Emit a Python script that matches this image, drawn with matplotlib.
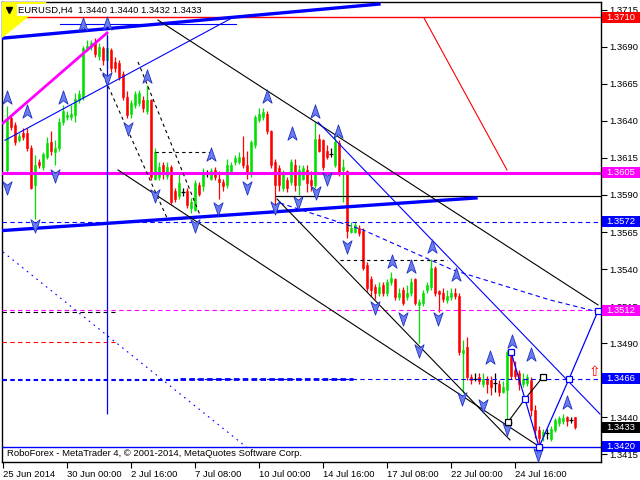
import numpy as np
import matplotlib.pyplot as plt
import matplotlib.transforms as mtransforms
from matplotlib.path import Path
from matplotlib.patches import Rectangle, Polygon

plt.rcParams['font.family'] = ['Liberation Sans', 'DejaVu Sans']

# EURUSD H4 candles, one per bar
opens = [1.3607, 1.3642, 1.3637, 1.3627, 1.3632, 1.3632, 1.3622, 1.3597, 1.3612, 1.3609,
         1.3616, 1.3626, 1.3619, 1.3622, 1.3639, 1.3643, 1.3643, 1.3644, 1.3654, 1.3656,
         1.3689, 1.3690, 1.3693, 1.3684, 1.3689, 1.3681, 1.3688, 1.3680, 1.3679, 1.3672,
         1.3656, 1.3645, 1.3651, 1.3652, 1.3654, 1.3647, 1.3654, 1.3601, 1.3602, 1.3610,
         1.3603, 1.3609, 1.3593, 1.3589, 1.3592, 1.3593, 1.3581, 1.3580, 1.3597, 1.3596,
         1.3605, 1.3601, 1.3607, 1.3601, 1.3599, 1.3597, 1.3606, 1.3612, 1.3612, 1.3616,
         1.3610, 1.3604, 1.3624, 1.3641, 1.3643, 1.3645, 1.3633, 1.3612, 1.3608, 1.3595,
         1.3600, 1.3599, 1.3610, 1.3597, 1.3601, 1.3607, 1.3600, 1.3597, 1.3628, 1.3627,
         1.3620, 1.3618, 1.3610, 1.3625, 1.3607, 1.3606, 1.3565, 1.3565, 1.3568, 1.3566,
         1.3543, 1.3533, 1.3528, 1.3524, 1.3529, 1.3524, 1.3531, 1.3533, 1.3521, 1.3526,
         1.3521, 1.3524, 1.3533, 1.3516, 1.3517, 1.3526, 1.3528, 1.3541, 1.3525, 1.3524,
         1.3519, 1.3521, 1.3524, 1.3522, 1.3483, 1.3487, 1.3467, 1.3466, 1.3467, 1.3462,
         1.3466, 1.3465, 1.3463, 1.3462, 1.3457, 1.3458, 1.3483, 1.3472, 1.3470, 1.3462,
         1.3463, 1.3465, 1.3445, 1.3431, 1.3427, 1.3429, 1.3425, 1.3431, 1.3436, 1.3437,
         1.3440, 1.3438, 1.3440]
highs = [1.3650, 1.3644, 1.3639, 1.3632, 1.3635, 1.3635, 1.3624, 1.3617, 1.3614, 1.3619,
         1.3629, 1.3633, 1.3627, 1.3642, 1.3651, 1.3647, 1.3651, 1.3659, 1.3661, 1.3691,
         1.3695, 1.3695, 1.3696, 1.3693, 1.3691, 1.3700, 1.3689, 1.3683, 1.3681, 1.3674,
         1.3660, 1.3654, 1.3660, 1.3661, 1.3657, 1.3664, 1.3655, 1.3622, 1.3612, 1.3612,
         1.3612, 1.3610, 1.3595, 1.3604, 1.3595, 1.3595, 1.3588, 1.3600, 1.3599, 1.3608,
         1.3607, 1.3608, 1.3609, 1.3606, 1.3601, 1.3614, 1.3612, 1.3617, 1.3619, 1.3630,
         1.3620, 1.3627, 1.3644, 1.3649, 1.3649, 1.3647, 1.3634, 1.3614, 1.3610, 1.3607,
         1.3602, 1.3614, 1.3614, 1.3610, 1.3610, 1.3610, 1.3606, 1.3639, 1.3631, 1.3628,
         1.3624, 1.3622, 1.3629, 1.3627, 1.3614, 1.3607, 1.3572, 1.3572, 1.3570, 1.3568,
         1.3545, 1.3535, 1.3530, 1.3531, 1.3531, 1.3533, 1.3538, 1.3534, 1.3527, 1.3528,
         1.3529, 1.3534, 1.3534, 1.3520, 1.3526, 1.3531, 1.3547, 1.3542, 1.3526, 1.3527,
         1.3526, 1.3527, 1.3527, 1.3524, 1.3492, 1.3494, 1.3469, 1.3470, 1.3470, 1.3470,
         1.3468, 1.3468, 1.3470, 1.3465, 1.3464, 1.3485, 1.3485, 1.3478, 1.3472, 1.3470,
         1.3469, 1.3467, 1.3448, 1.3434, 1.3432, 1.3432, 1.3434, 1.3439, 1.3441, 1.3442,
         1.3441, 1.3440, 1.3440]
lows = [1.3605, 1.3634, 1.3624, 1.3626, 1.3627, 1.3620, 1.3594, 1.3574, 1.3608, 1.3607,
        1.3614, 1.3617, 1.3610, 1.3620, 1.3637, 1.3641, 1.3641, 1.3639, 1.3652, 1.3654,
        1.3687, 1.3688, 1.3683, 1.3681, 1.3678, 1.3675, 1.3673, 1.3673, 1.3668, 1.3654,
        1.3642, 1.3642, 1.3649, 1.3650, 1.3646, 1.3645, 1.3600, 1.3600, 1.3600, 1.3601,
        1.3601, 1.3584, 1.3585, 1.3587, 1.3589, 1.3581, 1.3578, 1.3579, 1.3589, 1.3593,
        1.3602, 1.3600, 1.3600, 1.3587, 1.3593, 1.3595, 1.3605, 1.3610, 1.3611, 1.3608,
        1.3601, 1.3602, 1.3622, 1.3639, 1.3641, 1.3631, 1.3608, 1.3583, 1.3593, 1.3593,
        1.3592, 1.3597, 1.3593, 1.3590, 1.3600, 1.3592, 1.3593, 1.3595, 1.3619, 1.3607,
        1.3614, 1.3616, 1.3609, 1.3603, 1.3585, 1.3561, 1.3564, 1.3564, 1.3562, 1.3539,
        1.3525, 1.3522, 1.3520, 1.3522, 1.3522, 1.3522, 1.3529, 1.3519, 1.3519, 1.3516,
        1.3519, 1.3522, 1.3516, 1.3490, 1.3515, 1.3524, 1.3526, 1.3522, 1.3511, 1.3518,
        1.3517, 1.3519, 1.3520, 1.3482, 1.3456, 1.3465, 1.3462, 1.3464, 1.3462, 1.3460,
        1.3456, 1.3455, 1.3457, 1.3454, 1.3456, 1.3436, 1.3466, 1.3466, 1.3458, 1.3460,
        1.3461, 1.3441, 1.3426, 1.3420, 1.3424, 1.3425, 1.3424, 1.3430, 1.3434, 1.3435,
        1.3434, 1.3436, 1.3432]
closes = [1.3641, 1.3636, 1.3626, 1.3630, 1.3629, 1.3622, 1.3595, 1.3610, 1.3610, 1.3618,
          1.3625, 1.3620, 1.3622, 1.3639, 1.3647, 1.3644, 1.3645, 1.3655, 1.3658, 1.3689,
          1.3691, 1.3693, 1.3685, 1.3690, 1.3681, 1.3689, 1.3676, 1.3676, 1.3670, 1.3656,
          1.3644, 1.3652, 1.3658, 1.3659, 1.3649, 1.3654, 1.3602, 1.3619, 1.3609, 1.3604,
          1.3609, 1.3585, 1.3587, 1.3598, 1.3592, 1.3583, 1.3585, 1.3598, 1.3591, 1.3605,
          1.3605, 1.3606, 1.3602, 1.3599, 1.3596, 1.3610, 1.3610, 1.3615, 1.3616, 1.3610,
          1.3604, 1.3626, 1.3643, 1.3645, 1.3646, 1.3633, 1.3610, 1.3597, 1.3597, 1.3604,
          1.3595, 1.3612, 1.3597, 1.3607, 1.3608, 1.3598, 1.3597, 1.3628, 1.3620, 1.3609,
          1.3616, 1.3618, 1.3626, 1.3605, 1.3609, 1.3566, 1.3568, 1.3570, 1.3564, 1.3541,
          1.3527, 1.3526, 1.3524, 1.3528, 1.3524, 1.3531, 1.3534, 1.3521, 1.3524, 1.3517,
          1.3524, 1.3531, 1.3517, 1.3518, 1.3524, 1.3529, 1.3541, 1.3524, 1.3523, 1.3520,
          1.3522, 1.3524, 1.3522, 1.3484, 1.3485, 1.3467, 1.3465, 1.3466, 1.3464, 1.3466,
          1.3462, 1.3460, 1.3463, 1.3457, 1.3460, 1.3484, 1.3468, 1.3468, 1.3462, 1.3466,
          1.3467, 1.3445, 1.3431, 1.3426, 1.3430, 1.3429, 1.3432, 1.3438, 1.3439, 1.3439,
          1.3437, 1.3438, 1.3433]

tick_bars = [0, 16, 32, 48, 64, 80, 96, 112, 128]
tick_labels = ['25 Jun 2014', '30 Jun 00:00', '2 Jul 16:00', '7 Jul 08:00', '10 Jul 00:00',
               '14 Jul 16:00', '17 Jul 08:00', '22 Jul 00:00', '24 Jul 16:00']

# horizontal levels
level_red = 1.3710
level_magenta = 1.3605
level_black = 1.3589
level_blue = 1.3572
level_target = 1.3512
level_mid = 1.3466
level_low = 1.3420
last_price = 1.3433

# trendlines (bar, price)
top_blue_x, top_blue_y = [0, 94], [1.3696, 1.3719]
low_blue_x, low_blue_y = [0, 118.25], [1.3566, 1.3588]
thin_blue_x, thin_blue_y = [0.5, 57.5], [1.3627, 1.3710]
blue_flat_x, blue_flat_y = [14.25, 58.25], [1.37055, 1.37055]
magenta_x, magenta_y = [0, 26], [1.36386, 1.36995]
black1_x, black1_y = [38.75, 148.75], [1.37082, 1.35157]
black2_x, black2_y = [28.75, 134.25], [1.36069, 1.34197]
black3_x, black3_y = [68.5, 126.75], [1.35873, 1.34245]
channel_x, channel_y = [78.75, 149.25], [1.36393, 1.34420]
red_diag_x, red_diag_y = [105.25, 126], [1.37096, 1.36069]
dash1_x, dash1_y = [24.25, 41], [1.36758, 1.35745]
dash2_x, dash2_y = [33.75, 49.25], [1.36799, 1.35765]
box_x, box_y = [38, 51.75, 51.75], [1.36191, 1.36191, 1.3614]
dash_flat_x, dash_flat_y = [84.25, 111], [1.35461, 1.35461]
curve_x = [69.25, 90, 112.5, 136.75, 148.75]
curve_y = [1.35846, 1.35664, 1.35393, 1.35191, 1.35110]
dotted_x, dotted_y = [0, 61.75], [1.35515, 1.34177]
vline_bar, vline_lo, vline_hi = 26, 1.34420, 1.36981

# wave forecast
wave_x = [127, 130.5, 134, 141.5, 148.75]
wave_y = [1.34839, 1.34522, 1.34197, 1.34657, 1.35116]
sub_x = [126.25, 130.5, 135]
sub_y = [1.34366, 1.34522, 1.34671]

# fractal arrows
up_x = [1, 6, 15, 20, 26, 36, 52, 66, 72.25, 78, 83.75, 97.25, 102, 107.25, 113.25,
        121.75, 127.25, 132, 141]
up_y = [1.36555, 1.36461, 1.36555, 1.37049, 1.37055, 1.36697, 1.36170, 1.36562, 1.36312,
        1.36461, 1.36326, 1.35447, 1.35414, 1.35549, 1.35359, 1.34799, 1.34907, 1.34819,
        1.34495]
dn_x = [1, 8, 13, 26, 31.25, 38, 48, 53.75, 61, 68, 73.75, 78.25, 81, 86, 93, 100,
        108.75, 104, 114.75, 120, 126, 133.75]
dn_y = [1.35954, 1.35697, 1.36035, 1.36691, 1.36353, 1.35900, 1.35697, 1.35812, 1.35954,
        1.35819, 1.35853, 1.35920, 1.36015, 1.35555, 1.35143, 1.35069, 1.35069, 1.34853,
        1.34528, 1.34481, 1.34326, 1.34150]

W, H = 640, 480
fig = plt.figure(figsize=(6.4, 4.8), dpi=100)
ax = fig.add_axes([2 / W, 1 - 462 / H, 599 / W, 460 / H])
ax.set_xlim(-0.25, 149.5)
ax.set_ylim(1.34096, 1.37204)

# candles
o = np.array(opens)
c = np.array(closes)
x = np.arange(1, len(o) + 1)
cols = np.where(c > o, '#00e000', np.where(c < o, '#ff0000', '#000000'))
ax.vlines(x, lows, highs, colors=cols, linewidth=0.9, zorder=2)
body = np.abs(c - o)
ax.bar(x, body, bottom=np.minimum(o, c), width=0.72, color=cols, edgecolor=cols,
       linewidth=0.4, zorder=2)
doji = body == 0
ax.hlines(o[doji], x[doji] - 0.45, x[doji] + 0.45, colors='black', linewidth=0.9, zorder=2)

# levels
ax.axhline(level_red, color='red', lw=1, zorder=3)
ax.axhline(level_magenta, color='#ff00ff', lw=2.2, zorder=3)
ax.plot([68.25, 149.5], [level_black] * 2, color='black', lw=0.9, zorder=3)
ax.axhline(level_blue, color='blue', lw=0.8, dashes=[4, 3], zorder=3)
ax.axhline(level_target, color='#ff00ff', lw=0.8, dashes=[4, 3], zorder=3)
ax.plot([-0.25, 28], [1.3511] * 2, color='black', lw=0.8, dashes=[4, 3], zorder=3)
ax.plot([-0.25, 28], [1.34908] * 2, color='red', lw=0.8, dashes=[4, 3], zorder=3)
ax.axhline(level_mid, color='blue', lw=0.8, dashes=[4, 3], zorder=3)
ax.plot([-0.25, 44.25], [1.34648] * 2, color='blue', lw=0.8, dashes=[4, 3], zorder=3)
ax.plot([44.25, 87.5], [level_mid] * 2, color='blue', lw=2, dashes=[2, 1.2], zorder=3)
ax.axhline(level_low, color='blue', lw=1, zorder=3)

# trendlines
ax.plot(top_blue_x, top_blue_y, color='blue', lw=2.4, zorder=3)
ax.plot(low_blue_x, low_blue_y, color='blue', lw=2.4, zorder=3)
ax.plot(thin_blue_x, thin_blue_y, color='blue', lw=0.8, zorder=3)
ax.plot(blue_flat_x, blue_flat_y, color='blue', lw=0.8, zorder=3)
ax.plot(magenta_x, magenta_y, color='#ff00ff', lw=2, zorder=3)
ax.plot(black1_x, black1_y, color='black', lw=0.8, zorder=3)
ax.plot(black2_x, black2_y, color='black', lw=0.8, zorder=3)
ax.plot(black3_x, black3_y, color='black', lw=0.8, zorder=3)
ax.plot(channel_x, channel_y, color='blue', lw=0.8, zorder=3)
ax.plot(red_diag_x, red_diag_y, color='red', lw=0.8, zorder=3)
ax.plot(dash1_x, dash1_y, color='black', lw=0.8, dashes=[3, 3], zorder=3)
ax.plot(dash2_x, dash2_y, color='black', lw=0.8, dashes=[3, 3], zorder=3)
ax.plot(box_x, box_y, color='black', lw=0.8, dashes=[3, 3], zorder=3)
ax.plot(dash_flat_x, dash_flat_y, color='black', lw=0.8, dashes=[3, 3], zorder=3)
ax.plot(curve_x, curve_y, color='blue', lw=0.8, dashes=[4, 3], zorder=3)
ax.plot(dotted_x, dotted_y, color='blue', lw=0.8, dashes=[1.5, 4], zorder=3)
ax.vlines(vline_bar, vline_lo, vline_hi, color='blue', lw=0.9, zorder=3)

# wave forecast
ax.plot(wave_x, wave_y, color='blue', lw=0.9, zorder=4)
ax.plot(sub_x, sub_y, color='black', lw=0.8, zorder=4)
ax.plot(wave_x, wave_y, ls='none', marker='s', ms=4, mfc='white', mec='blue', mew=0.9, zorder=5)
ax.plot([sub_x[0], sub_x[2]], [sub_y[0], sub_y[2]], ls='none', marker='s', ms=4,
        mfc='white', mec='black', mew=0.9, zorder=5)
ax.text(147.75, 1.34704, '\u21e7', color='red', fontsize=10, ha='center', va='center',
        family='DejaVu Sans', zorder=5)

# fractal arrows
up_arrow = Path([(0, 1), (0.6, -0.75), (0, -0.3), (-0.6, -0.75), (0, 1)],
                [Path.MOVETO, Path.LINETO, Path.LINETO, Path.LINETO, Path.CLOSEPOLY])
dn_arrow = Path([(0, -1), (0.6, 0.75), (0, 0.3), (-0.6, 0.75), (0, -1)],
                [Path.MOVETO, Path.LINETO, Path.LINETO, Path.LINETO, Path.CLOSEPOLY])
ax.plot(up_x, up_y, ls='none', marker=up_arrow, ms=11, mfc='#6a7cf2', mec='#1f30c0',
        mew=0.6, zorder=4)
ax.plot(dn_x, dn_y, ls='none', marker=dn_arrow, ms=11, mfc='#6a7cf2', mec='#1f30c0',
        mew=0.6, zorder=4)

# axes look
for s in ax.spines.values():
    s.set_color('black')
    s.set_linewidth(1)
ax.yaxis.tick_right()
yt = np.arange(1.3415, 1.37151, 0.0025)
ax.set_yticks(yt)
# 1.3465 sits fully under the 1.3466 box on the original, so it is left blank
ax.set_yticklabels(['' if abs(v - 1.3465) < 1e-6 else f'{v:.4f}' for v in yt])
ax.tick_params(axis='y', direction='out', length=4, width=0.8, pad=2, labelsize=6.8)
ax.set_xticks(tick_bars)
ax.set_xticklabels(tick_labels, ha='left')
ax.tick_params(axis='x', direction='out', length=4, width=0.8, pad=1.5, labelsize=6.8)

# price boxes on the right scale
trans = mtransforms.blended_transform_factory(fig.transFigure, ax.transData)
box_h = 11 / 14800
for price, col, txt in [(level_red, '#ff0000', 'white'), (level_magenta, '#ff00ff', 'white'),
                        (level_blue, '#0000ff', 'white'), (level_target, '#ff00ff', 'white'),
                        (level_mid, '#0000ff', 'white'), (last_price, '#000000', 'white'),
                        (level_low, '#0000ff', 'white')]:
    ax.add_patch(Rectangle((602 / W, price - box_h / 2), 38 / W, box_h, transform=trans,
                           facecolor=col, edgecolor='none', clip_on=False, zorder=6))
    ax.text(606 / W, price, f'{price:.4f}', transform=trans, color=txt, fontsize=6.8,
            va='center', ha='left', clip_on=False, zorder=7)

# corner marker and header
ax.add_patch(Polygon([(0, 1), (45 / 599, 1), (0, 1 - 36 / 460)], closed=True,
                     transform=ax.transAxes, facecolor='#ffff00', edgecolor='none', zorder=5))
ax.plot([7 / 599], [1 - 8 / 460], transform=ax.transAxes, marker='v', ms=4, color='black',
        zorder=7, clip_on=False)
ax.text(16 / 599, 1 - 8 / 460, 'EURUSD,H4  1.3440 1.3440 1.3432 1.3433', transform=ax.transAxes,
        fontsize=6.8, va='center', ha='left', zorder=7,
        bbox=dict(facecolor='white', edgecolor='none', pad=0.8))
ax.text(5 / 599, 9 / 460, 'RoboForex - MetaTrader 4, \u00a9 2001-2014, MetaQuotes Software Corp.',
        transform=ax.transAxes, fontsize=6.8, va='center', ha='left', zorder=7)

fig.savefig('out.png', dpi=100)
